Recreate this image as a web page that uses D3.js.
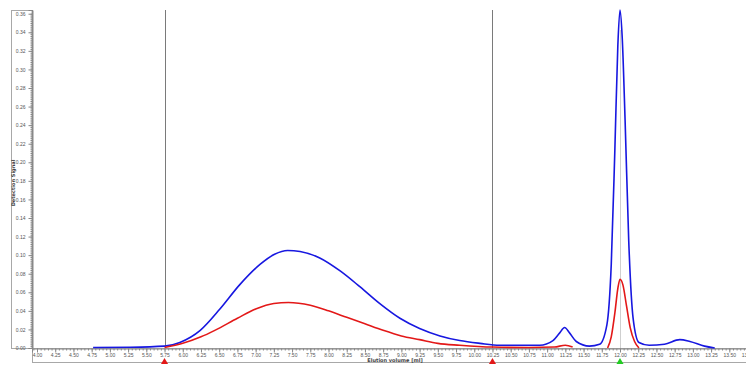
<!DOCTYPE html>
<html>
<head>
<meta charset="utf-8">
<script src="https://cdn.jsdelivr.net/npm/d3@7"></script>
<style>
  body { margin: 0; background: #fff; }
  svg { display: block; font-family: Tahoma, "DejaVu Sans", sans-serif; }
</style>
</head>
<body>
<svg id="chart" width="746" height="365"></svg>
<script>
// elution volume (ml) and detection signal
const blueVol = [4.77, 5.28, 5.75, 5.96, 6.24, 6.51, 6.78, 7.06, 7.26, 7.44, 7.61, 7.88, 8.16, 8.43, 8.70, 8.98, 9.25, 9.53, 9.80, 10.08, 10.35, 10.63, 10.90, 11.08, 11.17, 11.24, 11.31, 11.40, 11.58, 11.72, 11.82, 11.88, 11.93, 11.97, 12.00, 12.03, 12.07, 12.12, 12.18, 12.26, 12.40, 12.61, 12.82, 12.96, 13.16, 13.30];
const blueSig = [0.0005, 0.0008, 0.002, 0.006, 0.019, 0.042, 0.068, 0.090, 0.101, 0.105, 0.104, 0.097, 0.083, 0.066, 0.048, 0.032, 0.021, 0.013, 0.008, 0.005, 0.003, 0.003, 0.003, 0.008, 0.016, 0.022, 0.016, 0.007, 0.002, 0.004, 0.025, 0.090, 0.215, 0.325, 0.364, 0.335, 0.245, 0.115, 0.032, 0.006, 0.003, 0.004, 0.009, 0.007, 0.002, 0.0];

// red trace is only drawn in the collected fractions
const redSegVol = [
  [5.75, 6.00, 6.25, 6.44, 6.75, 7.00, 7.25, 7.45, 7.75, 8.00, 8.25, 8.50, 8.75, 9.00, 9.25, 9.50, 9.80, 10.25, 10.75, 11.10, 11.25, 11.35],
  [11.83, 11.88, 11.93, 11.97, 12.00, 12.04, 12.09, 12.14, 12.20, 12.26]
];
const redSegSig = [
  [0.0005, 0.005, 0.012, 0.019, 0.032, 0.042, 0.048, 0.049, 0.046, 0.040, 0.033, 0.026, 0.019, 0.013, 0.009, 0.005, 0.003, 0.001, 0.0005, 0.001, 0.003, 0.001],
  [0.0, 0.012, 0.038, 0.064, 0.074, 0.068, 0.045, 0.022, 0.007, 0.0]
];

const fractionMarks = [5.75, 10.25];   // red markers + dark lines
const injectMark = 12.00;              // green marker

const svg = d3.select("#chart");
const W = 746;
const plotLeft = 32, plotTop = 10, plotBottom = 348;

const x = d3.scaleLinear().domain([4.00, 12.00]).range([37, 620]);
x.domain([x.invert(plotLeft), 12.00 + (W - 620) / 72.875]).range([plotLeft, W]);
const y = d3.scaleLinear().domain([0, 0.364]).range([plotBottom, plotTop]);

// y axis panel
svg.append("rect")
  .attr("x", 11.5).attr("y", plotTop + 0.5)
  .attr("width", plotLeft - 11.5).attr("height", plotBottom - plotTop)
  .attr("fill", "none").attr("stroke", "#a8a8a8");

// x axis panel
svg.append("rect")
  .attr("x", plotLeft + 0.5).attr("y", plotBottom + 0.5)
  .attr("width", W - plotLeft).attr("height", 14)
  .attr("fill", "none").attr("stroke", "#a8a8a8");

const yMajor = d3.range(0, 0.3601, 0.02);
const yMinor = d3.range(0, 0.3601, 0.002);
const gy = svg.append("g").attr("transform", `translate(${plotLeft + 0.5},0)`);
gy.call(d3.axisLeft(y).tickValues(yMinor).tickSize(2).tickFormat(""));
gy.call(g => g.select(".domain").remove());
const gy2 = svg.append("g").attr("transform", `translate(${plotLeft + 0.5},0)`)
  .call(d3.axisLeft(y).tickValues(yMajor).tickSize(4).tickPadding(3).tickFormat(d3.format(".2f")));
gy2.selectAll("text").attr("font-size", 5).attr("fill", "#555");
svg.selectAll("g line, g path").attr("stroke", "#888");

const xMajor = d3.range(4.00, 13.76, 0.25);
const xMinor = d3.range(3.95, 13.8, 0.05);
const gx = svg.append("g").attr("transform", `translate(0,${plotBottom + 0.5})`);
gx.call(d3.axisBottom(x).tickValues(xMinor).tickSize(2).tickFormat(""));
gx.select(".domain").remove();
const gx2 = svg.append("g").attr("transform", `translate(0,${plotBottom + 0.5})`)
  .call(d3.axisBottom(x).tickValues(xMajor).tickSize(4).tickPadding(1).tickFormat(d3.format(".2f")));
gx2.select(".domain").attr("stroke", "#888");
gx2.selectAll("text").attr("font-size", 5).attr("fill", "#555");
svg.selectAll("g.tick line").attr("stroke", "#888");

// y axis line
svg.append("line")
  .attr("x1", plotLeft + 0.5).attr("x2", plotLeft + 0.5)
  .attr("y1", plotTop).attr("y2", plotBottom)
  .attr("stroke", "#888");

// axis titles
svg.append("text")
  .attr("x", 395).attr("y", 361.5)
  .attr("text-anchor", "middle")
  .attr("font-size", 5).attr("font-weight", "bold").attr("fill", "#444")
  .text("Elution volume [ml]");
svg.append("text")
  .attr("transform", `translate(15,183) rotate(-90)`)
  .attr("text-anchor", "middle")
  .attr("font-size", 5).attr("font-weight", "bold").attr("fill", "#444")
  .text("Detection Signal");

// fraction lines
svg.selectAll(".frac")
  .data(fractionMarks)
  .join("line")
  .attr("x1", d => Math.round(x(d)) + 0.5).attr("x2", d => Math.round(x(d)) + 0.5)
  .attr("y1", plotTop).attr("y2", plotBottom)
  .attr("stroke", "#7a7a7a");
svg.append("line")
  .attr("x1", Math.round(x(injectMark)) + 0.5).attr("x2", Math.round(x(injectMark)) + 0.5)
  .attr("y1", plotTop + 20).attr("y2", plotBottom)
  .attr("stroke", "#cfcfcf");

const line = d3.line()
  .x(d => x(d[0]))
  .y(d => y(d[1]))
  .curve(d3.curveMonotoneX);

svg.append("path")
  .datum(blueVol.map((v, i) => [v, blueSig[i]]))
  .attr("d", line)
  .attr("fill", "none")
  .attr("stroke", "#1717e0")
  .attr("stroke-width", 1.6);

redSegVol.forEach((seg, k) => {
  svg.append("path")
    .datum(seg.map((v, i) => [v, redSegSig[k][i]]))
    .attr("d", line)
    .attr("fill", "none")
    .attr("stroke", "#e31818")
    .attr("stroke-width", 1.6);
});

// markers
const tri = d3.symbol().type(d3.symbolTriangle).size(22);
svg.selectAll(".mk")
  .data(fractionMarks)
  .join("path")
  .attr("d", tri)
  .attr("transform", d => `translate(${x(d)},362)`)
  .attr("fill", "#e31818");
svg.append("path")
  .attr("d", tri)
  .attr("transform", `translate(${x(injectMark)},362)`)
  .attr("fill", "#22cc22");
</script>
</body>
</html>
